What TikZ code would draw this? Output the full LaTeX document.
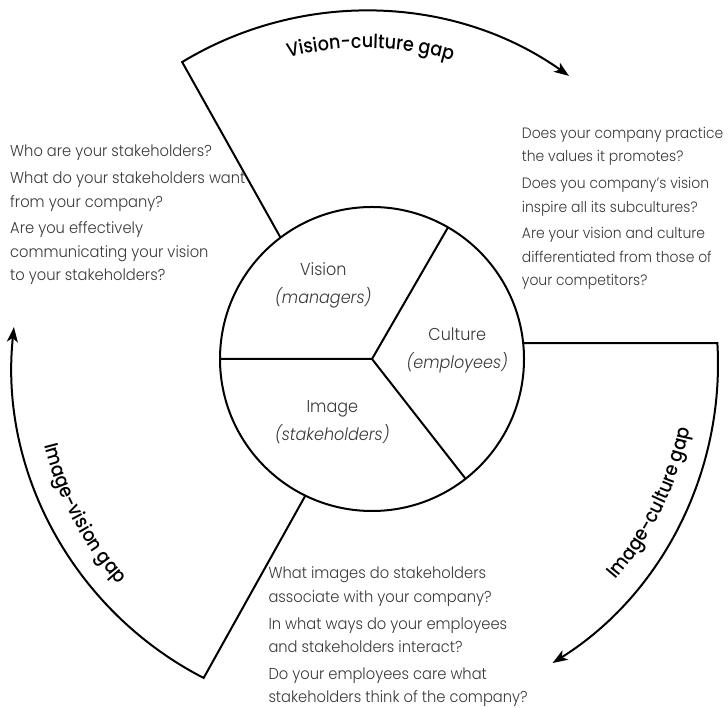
\documentclass[tikz,border=0pt]{standalone}
\usepackage{fontspec}
\setmainfont{Poppins}[UprightFont={* Light}, ItalicFont={* Light Italic}, FakeStretch=0.93]
\newfontfamily\gapfamily{Poppins}[UprightFont={* Medium}, FakeStretch=0.9]
\usetikzlibrary{arrows.meta,decorations.text,calc}

\begin{document}
\begin{tikzpicture}[x=1pt,y=1pt,
  gapline/.style={line width=2pt, line join=miter,
    -{Stealth[length=15pt,width=11pt,inset=4pt]}},
  wheel/.style={circle, draw, line width=2pt, minimum size=304pt,
    inner sep=0pt, outer sep=0pt},
  divider/.style={line width=2pt},
  % anchored on the baseline of the last line
  question/.style={anchor=base west, align=left, inner sep=0pt,
    text=black!78, font=\fontsize{15.8}{23.7}\selectfont},
  role/.style={align=center, inner sep=0pt, text=black!78,
    font=\fontsize{17.2}{28}\selectfont},
  gaptext/.style={decorate, decoration={text along path, text align=center,
    text={|\gapfamily\fontsize{19.5}{22}\selectfont|#1}}}
]
\useasboundingbox (0,0) rectangle (728,708);

% centre of the three gap arcs
\coordinate (O) at (365,344);

% the wheel and its three sectors
\node[wheel] (hub) at (372,349) {};
\draw[divider] (hub.180) -- (hub.center) -- (hub.60.8);
\draw[divider] (hub.center) -- (hub.-52.1);

\node[role] (vision)  at (323.3,422.2) {Vision\\\textit{(managers)}};
\node[role] (culture) at (457.3,357.2) {Culture\\\textit{(employees)}};
\node[role] (image)   at (332.3,285.8) {Image\\\textit{(stakeholders)}};

% gap arcs
\coordinate (vc) at ($(O)+(121.2:353)$);
\coordinate (ic) at ($(O)+(3.4:353)$);
\coordinate (iv) at ($(O)+(-117.2:353)$);

\draw[gapline] (hub.127.3) -- (vc) arc[start angle=121.2, end angle=54.7, radius=353];
\draw[gapline] (hub.6) -- (ic) arc[start angle=3.4, end angle=-57.9, radius=353];
\draw[gapline] (hub.-116.6) -- (iv) arc[start angle=-117.2, end angle=-186, radius=353];

% gap labels set along the arcs
\path[gaptext={Vision-culture gap}] ($(O)+(114:316)$) arc[start angle=114, end angle=64, radius=316];
\path[gaptext={Image-culture gap}] ($(O)+(-46:331)$) arc[start angle=-46, end angle=-6, radius=331];
\path[gaptext={Image-vision gap}] ($(O)+(188:331)$) arc[start angle=188, end angle=228, radius=331];

% questions
\node[question] (qvision) at (10,427) {Who are your stakeholders?\\[2.8pt]
  What do your stakeholders want\\ from your company?\\[2.8pt]
  Are you effectively\\ communicating your vision\\ to your stakeholders?};
\node[question, font=\fontsize{15}{23.7}\selectfont] (qculture) at (521.7,422) {Does your company practice\\ the values it promotes?\\[2.8pt]
  Does you company’s vision\\ inspire all its subcultures?\\[2.8pt]
  Are your vision and culture\\ differentiated from those of\\ your competitors?};
\node[question] (qimage) at (268.3,5) {What images do stakeholders\\ associate with your company?\\[2.8pt]
  In what ways do your employees\\ and stakeholders interact?\\[2.8pt]
  Do your employees care what\\ stakeholders think of the company?};
\end{tikzpicture}
\end{document}
